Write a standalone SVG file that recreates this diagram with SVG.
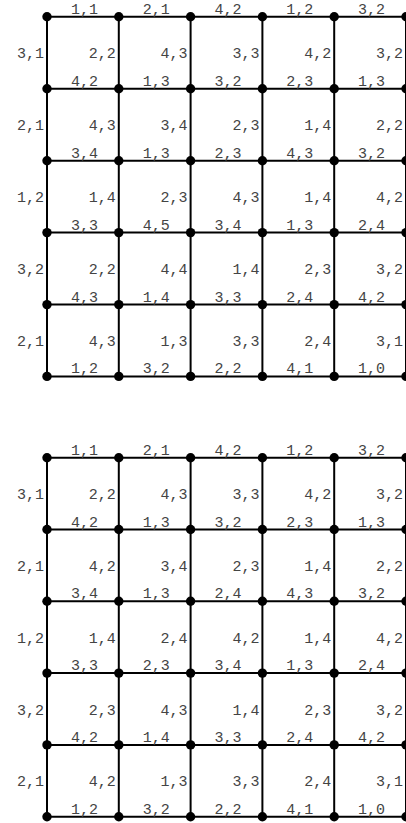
<svg xmlns="http://www.w3.org/2000/svg" width="406" height="823" viewBox="0 0 406 823">
<style>
.e{stroke:#000;stroke-width:2;fill:none}
.n{fill:#000}
text{font-family:"Liberation Mono","Courier New",monospace;font-size:15px;fill:#444}
.h{text-anchor:middle}
.v{text-anchor:end}
</style>
<rect width="406" height="823" fill="#fff"/>
<g id="connectors1">
<line class="e" x1="47" y1="16.7" x2="406" y2="16.7"/>
<line class="e" x1="47" y1="88.8" x2="406" y2="88.8"/>
<line class="e" x1="47" y1="160.8" x2="406" y2="160.8"/>
<line class="e" x1="47" y1="232.6" x2="406" y2="232.6"/>
<line class="e" x1="47" y1="304.6" x2="406" y2="304.6"/>
<line class="e" x1="47" y1="376.4" x2="406" y2="376.4"/>
<line class="e" x1="47" y1="16.7" x2="47" y2="376.4"/>
<line class="e" x1="118.8" y1="16.7" x2="118.8" y2="376.4"/>
<line class="e" x1="190.6" y1="16.7" x2="190.6" y2="376.4"/>
<line class="e" x1="262.4" y1="16.7" x2="262.4" y2="376.4"/>
<line class="e" x1="334.2" y1="16.7" x2="334.2" y2="376.4"/>
<line class="e" x1="406" y1="16.7" x2="406" y2="376.4"/>
</g>
<g id="labels1">
<text class="h" x="84.4" y="13.7">1,1</text><text class="h" x="156.2" y="13.7">2,1</text><text class="h" x="228" y="13.7">4,2</text><text class="h" x="299.8" y="13.7">1,2</text><text class="h" x="371.6" y="13.7">3,2</text>
<text class="h" x="84.4" y="85.8">4,2</text><text class="h" x="156.2" y="85.8">1,3</text><text class="h" x="228" y="85.8">3,2</text><text class="h" x="299.8" y="85.8">2,3</text><text class="h" x="371.6" y="85.8">1,3</text>
<text class="h" x="84.4" y="157.8">3,4</text><text class="h" x="156.2" y="157.8">1,3</text><text class="h" x="228" y="157.8">2,3</text><text class="h" x="299.8" y="157.8">4,3</text><text class="h" x="371.6" y="157.8">3,2</text>
<text class="h" x="84.4" y="229.6">3,3</text><text class="h" x="156.2" y="229.6">4,5</text><text class="h" x="228" y="229.6">3,4</text><text class="h" x="299.8" y="229.6">1,3</text><text class="h" x="371.6" y="229.6">2,4</text>
<text class="h" x="84.4" y="301.6">4,3</text><text class="h" x="156.2" y="301.6">1,4</text><text class="h" x="228" y="301.6">3,3</text><text class="h" x="299.8" y="301.6">2,4</text><text class="h" x="371.6" y="301.6">4,2</text>
<text class="h" x="84.4" y="373.4">1,2</text><text class="h" x="156.2" y="373.4">3,2</text><text class="h" x="228" y="373.4">2,2</text><text class="h" x="299.8" y="373.4">4,1</text><text class="h" x="371.6" y="373.4">1,0</text>
<text class="v" x="44" y="58.3">3,1</text><text class="v" x="115.8" y="58.3">2,2</text><text class="v" x="187.6" y="58.3">4,3</text><text class="v" x="259.4" y="58.3">3,3</text><text class="v" x="331.2" y="58.3">4,2</text><text class="v" x="403" y="58.3">3,2</text>
<text class="v" x="44" y="130.3">2,1</text><text class="v" x="115.8" y="130.3">4,3</text><text class="v" x="187.6" y="130.3">3,4</text><text class="v" x="259.4" y="130.3">2,3</text><text class="v" x="331.2" y="130.3">1,4</text><text class="v" x="403" y="130.3">2,2</text>
<text class="v" x="44" y="202.2">1,2</text><text class="v" x="115.8" y="202.2">1,4</text><text class="v" x="187.6" y="202.2">2,3</text><text class="v" x="259.4" y="202.2">4,3</text><text class="v" x="331.2" y="202.2">1,4</text><text class="v" x="403" y="202.2">4,2</text>
<text class="v" x="44" y="274.1">3,2</text><text class="v" x="115.8" y="274.1">2,2</text><text class="v" x="187.6" y="274.1">4,4</text><text class="v" x="259.4" y="274.1">1,4</text><text class="v" x="331.2" y="274.1">2,3</text><text class="v" x="403" y="274.1">3,2</text>
<text class="v" x="44" y="346">2,1</text><text class="v" x="115.8" y="346">4,3</text><text class="v" x="187.6" y="346">1,3</text><text class="v" x="259.4" y="346">3,3</text><text class="v" x="331.2" y="346">2,4</text><text class="v" x="403" y="346">3,1</text>
</g>
<g id="nodes1">
<g id="a00"><circle class="n" cx="47" cy="16.7" r="4.7"/></g><g id="a01"><circle class="n" cx="118.8" cy="16.7" r="4.7"/></g><g id="a02"><circle class="n" cx="190.6" cy="16.7" r="4.7"/></g><g id="a03"><circle class="n" cx="262.4" cy="16.7" r="4.7"/></g><g id="a04"><circle class="n" cx="334.2" cy="16.7" r="4.7"/></g><g id="a05"><circle class="n" cx="406" cy="16.7" r="4.7"/></g>
<g id="a10"><circle class="n" cx="47" cy="88.8" r="4.7"/></g><g id="a11"><circle class="n" cx="118.8" cy="88.8" r="4.7"/></g><g id="a12"><circle class="n" cx="190.6" cy="88.8" r="4.7"/></g><g id="a13"><circle class="n" cx="262.4" cy="88.8" r="4.7"/></g><g id="a14"><circle class="n" cx="334.2" cy="88.8" r="4.7"/></g><g id="a15"><circle class="n" cx="406" cy="88.8" r="4.7"/></g>
<g id="a20"><circle class="n" cx="47" cy="160.8" r="4.7"/></g><g id="a21"><circle class="n" cx="118.8" cy="160.8" r="4.7"/></g><g id="a22"><circle class="n" cx="190.6" cy="160.8" r="4.7"/></g><g id="a23"><circle class="n" cx="262.4" cy="160.8" r="4.7"/></g><g id="a24"><circle class="n" cx="334.2" cy="160.8" r="4.7"/></g><g id="a25"><circle class="n" cx="406" cy="160.8" r="4.7"/></g>
<g id="a30"><circle class="n" cx="47" cy="232.6" r="4.7"/></g><g id="a31"><circle class="n" cx="118.8" cy="232.6" r="4.7"/></g><g id="a32"><circle class="n" cx="190.6" cy="232.6" r="4.7"/></g><g id="a33"><circle class="n" cx="262.4" cy="232.6" r="4.7"/></g><g id="a34"><circle class="n" cx="334.2" cy="232.6" r="4.7"/></g><g id="a35"><circle class="n" cx="406" cy="232.6" r="4.7"/></g>
<g id="a40"><circle class="n" cx="47" cy="304.6" r="4.7"/></g><g id="a41"><circle class="n" cx="118.8" cy="304.6" r="4.7"/></g><g id="a42"><circle class="n" cx="190.6" cy="304.6" r="4.7"/></g><g id="a43"><circle class="n" cx="262.4" cy="304.6" r="4.7"/></g><g id="a44"><circle class="n" cx="334.2" cy="304.6" r="4.7"/></g><g id="a45"><circle class="n" cx="406" cy="304.6" r="4.7"/></g>
<g id="a50"><circle class="n" cx="47" cy="376.4" r="4.7"/></g><g id="a51"><circle class="n" cx="118.8" cy="376.4" r="4.7"/></g><g id="a52"><circle class="n" cx="190.6" cy="376.4" r="4.7"/></g><g id="a53"><circle class="n" cx="262.4" cy="376.4" r="4.7"/></g><g id="a54"><circle class="n" cx="334.2" cy="376.4" r="4.7"/></g><g id="a55"><circle class="n" cx="406" cy="376.4" r="4.7"/></g>
</g>
<g id="connectors2">
<line class="e" x1="47" y1="457.7" x2="406" y2="457.7"/>
<line class="e" x1="47" y1="529.5" x2="406" y2="529.5"/>
<line class="e" x1="47" y1="601.3" x2="406" y2="601.3"/>
<line class="e" x1="47" y1="673.1" x2="406" y2="673.1"/>
<line class="e" x1="47" y1="744.9" x2="406" y2="744.9"/>
<line class="e" x1="47" y1="816.7" x2="406" y2="816.7"/>
<line class="e" x1="47" y1="457.7" x2="47" y2="816.7"/>
<line class="e" x1="118.8" y1="457.7" x2="118.8" y2="816.7"/>
<line class="e" x1="190.6" y1="457.7" x2="190.6" y2="816.7"/>
<line class="e" x1="262.4" y1="457.7" x2="262.4" y2="816.7"/>
<line class="e" x1="334.2" y1="457.7" x2="334.2" y2="816.7"/>
<line class="e" x1="406" y1="457.7" x2="406" y2="816.7"/>
</g>
<g id="labels2">
<text class="h" x="84.4" y="454.7">1,1</text><text class="h" x="156.2" y="454.7">2,1</text><text class="h" x="228" y="454.7">4,2</text><text class="h" x="299.8" y="454.7">1,2</text><text class="h" x="371.6" y="454.7">3,2</text>
<text class="h" x="84.4" y="526.5">4,2</text><text class="h" x="156.2" y="526.5">1,3</text><text class="h" x="228" y="526.5">3,2</text><text class="h" x="299.8" y="526.5">2,3</text><text class="h" x="371.6" y="526.5">1,3</text>
<text class="h" x="84.4" y="598.3">3,4</text><text class="h" x="156.2" y="598.3">1,3</text><text class="h" x="228" y="598.3">2,4</text><text class="h" x="299.8" y="598.3">4,3</text><text class="h" x="371.6" y="598.3">3,2</text>
<text class="h" x="84.4" y="670.1">3,3</text><text class="h" x="156.2" y="670.1">2,3</text><text class="h" x="228" y="670.1">3,4</text><text class="h" x="299.8" y="670.1">1,3</text><text class="h" x="371.6" y="670.1">2,4</text>
<text class="h" x="84.4" y="741.9">4,2</text><text class="h" x="156.2" y="741.9">1,4</text><text class="h" x="228" y="741.9">3,3</text><text class="h" x="299.8" y="741.9">2,4</text><text class="h" x="371.6" y="741.9">4,2</text>
<text class="h" x="84.4" y="813.7">1,2</text><text class="h" x="156.2" y="813.7">3,2</text><text class="h" x="228" y="813.7">2,2</text><text class="h" x="299.8" y="813.7">4,1</text><text class="h" x="371.6" y="813.7">1,0</text>
<text class="v" x="44" y="499.1">3,1</text><text class="v" x="115.8" y="499.1">2,2</text><text class="v" x="187.6" y="499.1">4,3</text><text class="v" x="259.4" y="499.1">3,3</text><text class="v" x="331.2" y="499.1">4,2</text><text class="v" x="403" y="499.1">3,2</text>
<text class="v" x="44" y="570.9">2,1</text><text class="v" x="115.8" y="570.9">4,2</text><text class="v" x="187.6" y="570.9">3,4</text><text class="v" x="259.4" y="570.9">2,3</text><text class="v" x="331.2" y="570.9">1,4</text><text class="v" x="403" y="570.9">2,2</text>
<text class="v" x="44" y="642.7">1,2</text><text class="v" x="115.8" y="642.7">1,4</text><text class="v" x="187.6" y="642.7">2,4</text><text class="v" x="259.4" y="642.7">4,2</text><text class="v" x="331.2" y="642.7">1,4</text><text class="v" x="403" y="642.7">4,2</text>
<text class="v" x="44" y="714.5">3,2</text><text class="v" x="115.8" y="714.5">2,3</text><text class="v" x="187.6" y="714.5">4,3</text><text class="v" x="259.4" y="714.5">1,4</text><text class="v" x="331.2" y="714.5">2,3</text><text class="v" x="403" y="714.5">3,2</text>
<text class="v" x="44" y="786.3">2,1</text><text class="v" x="115.8" y="786.3">4,2</text><text class="v" x="187.6" y="786.3">1,3</text><text class="v" x="259.4" y="786.3">3,3</text><text class="v" x="331.2" y="786.3">2,4</text><text class="v" x="403" y="786.3">3,1</text>
</g>
<g id="nodes2">
<g id="b00"><circle class="n" cx="47" cy="457.7" r="4.7"/></g><g id="b01"><circle class="n" cx="118.8" cy="457.7" r="4.7"/></g><g id="b02"><circle class="n" cx="190.6" cy="457.7" r="4.7"/></g><g id="b03"><circle class="n" cx="262.4" cy="457.7" r="4.7"/></g><g id="b04"><circle class="n" cx="334.2" cy="457.7" r="4.7"/></g><g id="b05"><circle class="n" cx="406" cy="457.7" r="4.7"/></g>
<g id="b10"><circle class="n" cx="47" cy="529.5" r="4.7"/></g><g id="b11"><circle class="n" cx="118.8" cy="529.5" r="4.7"/></g><g id="b12"><circle class="n" cx="190.6" cy="529.5" r="4.7"/></g><g id="b13"><circle class="n" cx="262.4" cy="529.5" r="4.7"/></g><g id="b14"><circle class="n" cx="334.2" cy="529.5" r="4.7"/></g><g id="b15"><circle class="n" cx="406" cy="529.5" r="4.7"/></g>
<g id="b20"><circle class="n" cx="47" cy="601.3" r="4.7"/></g><g id="b21"><circle class="n" cx="118.8" cy="601.3" r="4.7"/></g><g id="b22"><circle class="n" cx="190.6" cy="601.3" r="4.7"/></g><g id="b23"><circle class="n" cx="262.4" cy="601.3" r="4.7"/></g><g id="b24"><circle class="n" cx="334.2" cy="601.3" r="4.7"/></g><g id="b25"><circle class="n" cx="406" cy="601.3" r="4.7"/></g>
<g id="b30"><circle class="n" cx="47" cy="673.1" r="4.7"/></g><g id="b31"><circle class="n" cx="118.8" cy="673.1" r="4.7"/></g><g id="b32"><circle class="n" cx="190.6" cy="673.1" r="4.7"/></g><g id="b33"><circle class="n" cx="262.4" cy="673.1" r="4.7"/></g><g id="b34"><circle class="n" cx="334.2" cy="673.1" r="4.7"/></g><g id="b35"><circle class="n" cx="406" cy="673.1" r="4.7"/></g>
<g id="b40"><circle class="n" cx="47" cy="744.9" r="4.7"/></g><g id="b41"><circle class="n" cx="118.8" cy="744.9" r="4.7"/></g><g id="b42"><circle class="n" cx="190.6" cy="744.9" r="4.7"/></g><g id="b43"><circle class="n" cx="262.4" cy="744.9" r="4.7"/></g><g id="b44"><circle class="n" cx="334.2" cy="744.9" r="4.7"/></g><g id="b45"><circle class="n" cx="406" cy="744.9" r="4.7"/></g>
<g id="b50"><circle class="n" cx="47" cy="816.7" r="4.7"/></g><g id="b51"><circle class="n" cx="118.8" cy="816.7" r="4.7"/></g><g id="b52"><circle class="n" cx="190.6" cy="816.7" r="4.7"/></g><g id="b53"><circle class="n" cx="262.4" cy="816.7" r="4.7"/></g><g id="b54"><circle class="n" cx="334.2" cy="816.7" r="4.7"/></g><g id="b55"><circle class="n" cx="406" cy="816.7" r="4.7"/></g>
</g>
</svg>
